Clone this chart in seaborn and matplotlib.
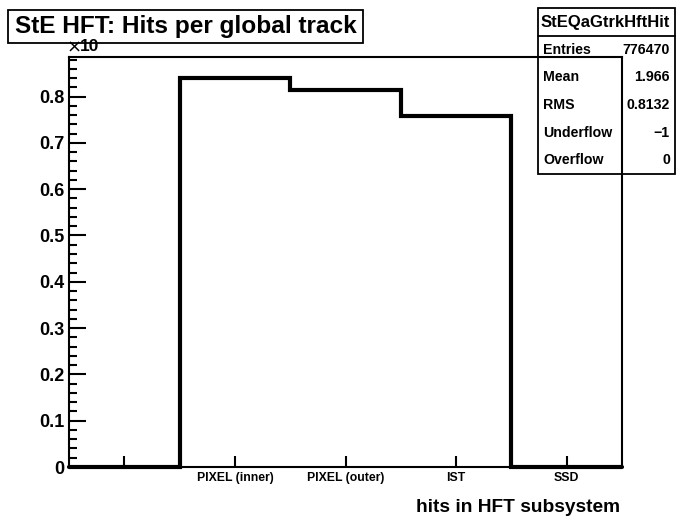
import numpy as np
import pandas as pd
import matplotlib
matplotlib.use("Agg")
import matplotlib.pyplot as plt
from matplotlib.patches import Rectangle
from matplotlib.lines import Line2D
from matplotlib.ticker import FixedLocator, NullLocator
import seaborn as sns

# ---- data (y values in units of 10^6 as shown on the axis) ----
bin_labels = ["", "PIXEL (inner)", "PIXEL (outer)", "IST", "SSD"]
bin_index = [0, 1, 2, 3, 4]
hits = [0.0, 0.841, 0.814, 0.759, 0.0]

title = "StE HFT: Hits per global track"
xlabel = "hits in HFT subsystem"
stats_name = "StEQaGtrkHftHit"
stats_keys = ["Entries", "Mean", "RMS", "Underflow", "Overflow"]
stats_vals = ["776470", "1.966", "0.8132", "\u22121", "0"]

sns.set_theme(style="white")
plt.rcParams["font.family"] = ["Liberation Sans", "DejaVu Sans"]
plt.rcParams["font.weight"] = "bold"
plt.rcParams["ytick.minor.visible"] = True

W, H = 676, 517
fig = plt.figure(figsize=(W / 100, H / 100), dpi=100)
fig.patch.set_facecolor("white")

L, R, T, B = 69, 622, 57, 467
ax = fig.add_axes([L / W, 1 - B / H, (R - L) / W, (B - T) / H])

df = pd.DataFrame({"bin": bin_index, "hits": hits})
sns.histplot(data=df, x="bin", weights="hits", discrete=True,
             element="step", fill=False, color="black", linewidth=3, ax=ax)
for ln in ax.lines:
    ln.set_clip_on(False)
    ln.set_solid_joinstyle("miter")

ax.set_xlim(-0.5, 4.5)
ax.set_ylim(0, 0.8855)
ax.set_xlabel("")
ax.set_ylabel("")

ax.set_xticks(bin_index)
ax.set_xticklabels(bin_labels, fontsize=8.8, fontweight="bold")
ax.xaxis.set_minor_locator(NullLocator())
yt = [round(0.1 * i, 1) for i in range(9)]
ax.set_yticks(yt)
ax.set_yticklabels([("%.1f" % v if v > 0 else "0") for v in yt],
                   fontsize=13, fontweight="bold")
ymin = [round(0.02 * i, 2) for i in range(45) if i % 5 != 0]
ax.yaxis.set_minor_locator(FixedLocator(ymin))
ax.tick_params(axis="x", which="major", direction="in", length=8, width=1.5,
               pad=3.5, colors="black", bottom=True, top=False)
ax.tick_params(axis="y", which="major", direction="in", length=12, width=1.5,
               pad=3, colors="black", left=True, right=False)
ax.tick_params(axis="y", which="minor", direction="in", length=6, width=1.5,
               colors="black", left=True, right=False)
for sp in ax.spines.values():
    sp.set_color("black")
    sp.set_linewidth(1.5)
    sp.set_visible(True)

def fx(px):
    return px / W

def fy(py):
    return 1 - py / H

# x axis title
fig.text(fx(620), fy(507), xlabel, ha="right", va="center",
         fontsize=13.8, fontweight="bold", color="black")

# exponent
fig.text(fx(66.5), fy(47.5), "\u00d7", ha="left", va="center",
         fontsize=13, fontweight="normal", family=["DejaVu Sans"], color="black")
fig.text(fx(80), fy(46.5), "10", ha="left", va="center",
         fontsize=12.5, fontweight="bold", color="black")

# title box
fig.add_artist(Rectangle((fx(8), fy(43)), fx(363) - fx(8), fy(10) - fy(43),
                         transform=fig.transFigure, fill=True, facecolor="white",
                         edgecolor="black", linewidth=1.3))
fig.text(fx(185.5), fy(26.5), title, ha="center", va="center",
         fontsize=17.6, fontweight="bold", color="black")

# stats box
bx0, bx1, by0, by1, sep = 538, 675, 8, 174, 36
fig.add_artist(Rectangle((fx(bx0), fy(by1)), fx(bx1) - fx(bx0), fy(by0) - fy(by1),
                         transform=fig.transFigure, fill=False,
                         edgecolor="black", linewidth=1.3))
fig.add_artist(Line2D([fx(bx0), fx(bx1)], [fy(sep), fy(sep)],
                      transform=fig.transFigure, color="black", linewidth=1.3))
fig.text(fx(605), fy(22.5), stats_name, ha="center", va="center",
         fontsize=12, fontweight="bold", color="black")
row_h = (by1 - sep) / len(stats_keys)
for i, (k, v) in enumerate(zip(stats_keys, stats_vals)):
    yc = sep + row_h * (i + 0.5)
    fig.text(fx(543), fy(yc), k, ha="left", va="center",
             fontsize=10.2, fontweight="bold", color="black")
    fig.text(fx(670), fy(yc), v, ha="right", va="center",
             fontsize=10.2, fontweight="bold", color="black")

fig.savefig("out.png", dpi=100, facecolor="white")
